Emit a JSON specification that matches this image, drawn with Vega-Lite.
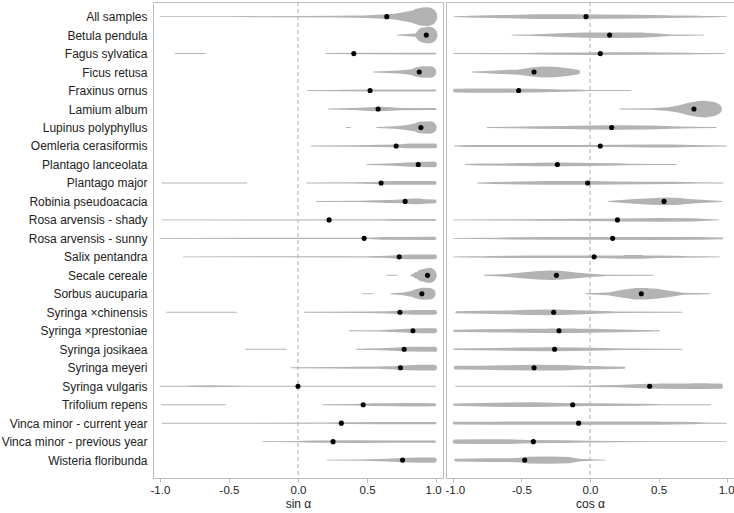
{
  "$schema": "https://vega.github.io/schema/vega-lite/v6.json",
  "padding": {"left": 0, "top": 1, "right": 0, "bottom": 0},
  "spacing": 0,
  "config": {
    "font": "Liberation Sans",
    "view": {"stroke": "#bdbdbd", "strokeWidth": 1},
    "axis": {"labelFont": "Liberation Sans", "titleFont": "Liberation Sans", "labelFontSize": 12, "titleFontSize": 12, "titleFontWeight": "normal", "labelColor": "#222", "titleColor": "#222", "grid": false, "domainColor": "#bdbdbd", "tickColor": "#bdbdbd"}
  },
  "datasets": {
    "means": [
      {"c": "All samples", "sin": 0.643, "cos": -0.029},
      {"c": "Betula pendula", "sin": 0.929, "cos": 0.143},
      {"c": "Fagus sylvatica", "sin": 0.404, "cos": 0.075},
      {"c": "Ficus retusa", "sin": 0.878, "cos": -0.408},
      {"c": "Fraxinus ornus", "sin": 0.522, "cos": -0.52},
      {"c": "Lamium album", "sin": 0.58, "cos": 0.758},
      {"c": "Lupinus polyphyllus", "sin": 0.89, "cos": 0.158},
      {"c": "Oemleria cerasiformis", "sin": 0.711, "cos": 0.075},
      {"c": "Plantago lanceolata", "sin": 0.871, "cos": -0.238},
      {"c": "Plantago major", "sin": 0.602, "cos": -0.017},
      {"c": "Robinia pseudoacacia", "sin": 0.776, "cos": 0.54},
      {"c": "Rosa arvensis - shady", "sin": 0.225, "cos": 0.2},
      {"c": "Rosa arvensis - sunny", "sin": 0.479, "cos": 0.165},
      {"c": "Salix pentandra", "sin": 0.733, "cos": 0.03},
      {"c": "Secale cereale", "sin": 0.938, "cos": -0.245},
      {"c": "Sorbus aucuparia", "sin": 0.897, "cos": 0.374},
      {"c": "Syringa ×chinensis", "sin": 0.738, "cos": -0.265},
      {"c": "Syringa ×prestoniae", "sin": 0.832, "cos": -0.226},
      {"c": "Syringa josikaea", "sin": 0.769, "cos": -0.258},
      {"c": "Syringa meyeri", "sin": 0.742, "cos": -0.408},
      {"c": "Syringa vulgaris", "sin": 0.0, "cos": 0.435},
      {"c": "Trifolium repens", "sin": 0.472, "cos": -0.126},
      {"c": "Vinca minor - current year", "sin": 0.314, "cos": -0.083},
      {"c": "Vinca minor - previous year", "sin": 0.254, "cos": -0.413},
      {"c": "Wisteria floribunda", "sin": 0.757, "cos": -0.476}
    ],
    "vsin": [
      {"c": "All samples", "g": 1, "x": -1, "d": 0.05},
      {"c": "All samples", "g": 1, "x": -0.5, "d": 0.05},
      {"c": "All samples", "g": 1, "x": 0, "d": 0.06},
      {"c": "All samples", "g": 1, "x": 0.3, "d": 0.08},
      {"c": "All samples", "g": 1, "x": 0.5, "d": 0.15},
      {"c": "All samples", "g": 1, "x": 0.62, "d": 0.22},
      {"c": "All samples", "g": 1, "x": 0.7, "d": 0.3},
      {"c": "All samples", "g": 1, "x": 0.76, "d": 0.45},
      {"c": "All samples", "g": 1, "x": 0.82, "d": 0.63},
      {"c": "All samples", "g": 1, "x": 0.87, "d": 0.85},
      {"c": "All samples", "g": 1, "x": 0.9, "d": 0.97},
      {"c": "All samples", "g": 1, "x": 0.94, "d": 1},
      {"c": "Betula pendula", "g": 1, "x": 0.716, "d": 0.05},
      {"c": "Betula pendula", "g": 1, "x": 0.8, "d": 0.12},
      {"c": "Betula pendula", "g": 1, "x": 0.86, "d": 0.2},
      {"c": "Betula pendula", "g": 1, "x": 0.88, "d": 0.45},
      {"c": "Betula pendula", "g": 1, "x": 0.91, "d": 0.8},
      {"c": "Betula pendula", "g": 1, "x": 0.95, "d": 0.88},
      {"c": "Fagus sylvatica", "g": 1, "x": -0.89, "d": 0.05},
      {"c": "Fagus sylvatica", "g": 1, "x": -0.67, "d": 0.05},
      {"c": "Fagus sylvatica", "g": 2, "x": 0.2, "d": 0.05},
      {"c": "Fagus sylvatica", "g": 2, "x": 0.5, "d": 0.08},
      {"c": "Fagus sylvatica", "g": 2, "x": 0.8, "d": 0.1},
      {"c": "Fagus sylvatica", "g": 2, "x": 0.995, "d": 0.1},
      {"c": "Ficus retusa", "g": 1, "x": 0.547, "d": 0.05},
      {"c": "Ficus retusa", "g": 1, "x": 0.65, "d": 0.1},
      {"c": "Ficus retusa", "g": 1, "x": 0.75, "d": 0.18},
      {"c": "Ficus retusa", "g": 1, "x": 0.82, "d": 0.3},
      {"c": "Ficus retusa", "g": 1, "x": 0.86, "d": 0.5},
      {"c": "Ficus retusa", "g": 1, "x": 0.9, "d": 0.6},
      {"c": "Ficus retusa", "g": 1, "x": 0.96, "d": 0.6},
      {"c": "Fraxinus ornus", "g": 1, "x": 0.07, "d": 0.05},
      {"c": "Fraxinus ornus", "g": 1, "x": 0.3, "d": 0.08},
      {"c": "Fraxinus ornus", "g": 1, "x": 0.6, "d": 0.1},
      {"c": "Fraxinus ornus", "g": 1, "x": 0.995, "d": 0.1},
      {"c": "Lamium album", "g": 1, "x": 0.22, "d": 0.05},
      {"c": "Lamium album", "g": 1, "x": 0.4, "d": 0.1},
      {"c": "Lamium album", "g": 1, "x": 0.52, "d": 0.2},
      {"c": "Lamium album", "g": 1, "x": 0.6, "d": 0.24},
      {"c": "Lamium album", "g": 1, "x": 0.68, "d": 0.18},
      {"c": "Lamium album", "g": 1, "x": 0.75, "d": 0.12},
      {"c": "Lamium album", "g": 1, "x": 0.995, "d": 0.1},
      {"c": "Lupinus polyphyllus", "g": 1, "x": 0.35, "d": 0.05},
      {"c": "Lupinus polyphyllus", "g": 1, "x": 0.38, "d": 0.05},
      {"c": "Lupinus polyphyllus", "g": 2, "x": 0.57, "d": 0.05},
      {"c": "Lupinus polyphyllus", "g": 2, "x": 0.7, "d": 0.12},
      {"c": "Lupinus polyphyllus", "g": 2, "x": 0.78, "d": 0.25},
      {"c": "Lupinus polyphyllus", "g": 2, "x": 0.84, "d": 0.4},
      {"c": "Lupinus polyphyllus", "g": 2, "x": 0.88, "d": 0.6},
      {"c": "Lupinus polyphyllus", "g": 2, "x": 0.96, "d": 0.65},
      {"c": "Oemleria cerasiformis", "g": 1, "x": 0.097, "d": 0.05},
      {"c": "Oemleria cerasiformis", "g": 1, "x": 0.4, "d": 0.07},
      {"c": "Oemleria cerasiformis", "g": 1, "x": 0.6, "d": 0.12},
      {"c": "Oemleria cerasiformis", "g": 1, "x": 0.72, "d": 0.15},
      {"c": "Oemleria cerasiformis", "g": 1, "x": 0.76, "d": 0.22},
      {"c": "Oemleria cerasiformis", "g": 1, "x": 0.8, "d": 0.25},
      {"c": "Oemleria cerasiformis", "g": 1, "x": 0.99, "d": 0.25},
      {"c": "Plantago lanceolata", "g": 1, "x": 0.5, "d": 0.05},
      {"c": "Plantago lanceolata", "g": 1, "x": 0.65, "d": 0.1},
      {"c": "Plantago lanceolata", "g": 1, "x": 0.75, "d": 0.18},
      {"c": "Plantago lanceolata", "g": 1, "x": 0.85, "d": 0.26},
      {"c": "Plantago lanceolata", "g": 1, "x": 0.985, "d": 0.3},
      {"c": "Plantago major", "g": 1, "x": -0.985, "d": 0.05},
      {"c": "Plantago major", "g": 1, "x": -0.37, "d": 0.05},
      {"c": "Plantago major", "g": 2, "x": 0.063, "d": 0.05},
      {"c": "Plantago major", "g": 2, "x": 0.4, "d": 0.06},
      {"c": "Plantago major", "g": 2, "x": 0.55, "d": 0.1},
      {"c": "Plantago major", "g": 2, "x": 0.62, "d": 0.18},
      {"c": "Plantago major", "g": 2, "x": 0.7, "d": 0.2},
      {"c": "Plantago major", "g": 2, "x": 0.99, "d": 0.2},
      {"c": "Robinia pseudoacacia", "g": 1, "x": 0.133, "d": 0.05},
      {"c": "Robinia pseudoacacia", "g": 1, "x": 0.45, "d": 0.06},
      {"c": "Robinia pseudoacacia", "g": 1, "x": 0.55, "d": 0.12},
      {"c": "Robinia pseudoacacia", "g": 1, "x": 0.65, "d": 0.16},
      {"c": "Robinia pseudoacacia", "g": 1, "x": 0.75, "d": 0.2},
      {"c": "Robinia pseudoacacia", "g": 1, "x": 0.82, "d": 0.3},
      {"c": "Robinia pseudoacacia", "g": 1, "x": 0.88, "d": 0.3},
      {"c": "Robinia pseudoacacia", "g": 1, "x": 0.92, "d": 0.24},
      {"c": "Robinia pseudoacacia", "g": 1, "x": 0.99, "d": 0.2},
      {"c": "Rosa arvensis - shady", "g": 1, "x": -0.985, "d": 0.05},
      {"c": "Rosa arvensis - shady", "g": 1, "x": 0.6, "d": 0.06},
      {"c": "Rosa arvensis - shady", "g": 1, "x": 0.7, "d": 0.1},
      {"c": "Rosa arvensis - shady", "g": 1, "x": 0.995, "d": 0.1},
      {"c": "Rosa arvensis - sunny", "g": 1, "x": -1, "d": 0.05},
      {"c": "Rosa arvensis - sunny", "g": 1, "x": 0.5, "d": 0.06},
      {"c": "Rosa arvensis - sunny", "g": 1, "x": 0.61, "d": 0.14},
      {"c": "Rosa arvensis - sunny", "g": 1, "x": 0.99, "d": 0.16},
      {"c": "Salix pentandra", "g": 1, "x": -0.83, "d": 0.05},
      {"c": "Salix pentandra", "g": 1, "x": 0.5, "d": 0.06},
      {"c": "Salix pentandra", "g": 1, "x": 0.65, "d": 0.12},
      {"c": "Salix pentandra", "g": 1, "x": 0.72, "d": 0.2},
      {"c": "Salix pentandra", "g": 1, "x": 0.8, "d": 0.24},
      {"c": "Salix pentandra", "g": 1, "x": 0.99, "d": 0.24},
      {"c": "Secale cereale", "g": 1, "x": 0.643, "d": 0.05},
      {"c": "Secale cereale", "g": 1, "x": 0.716, "d": 0.05},
      {"c": "Secale cereale", "g": 2, "x": 0.817, "d": 0.05},
      {"c": "Secale cereale", "g": 2, "x": 0.86, "d": 0.35},
      {"c": "Secale cereale", "g": 2, "x": 0.9, "d": 0.65},
      {"c": "Secale cereale", "g": 2, "x": 0.95, "d": 0.8},
      {"c": "Sorbus aucuparia", "g": 1, "x": 0.47, "d": 0.05},
      {"c": "Sorbus aucuparia", "g": 1, "x": 0.54, "d": 0.05},
      {"c": "Sorbus aucuparia", "g": 2, "x": 0.672, "d": 0.05},
      {"c": "Sorbus aucuparia", "g": 2, "x": 0.76, "d": 0.15},
      {"c": "Sorbus aucuparia", "g": 2, "x": 0.82, "d": 0.3},
      {"c": "Sorbus aucuparia", "g": 2, "x": 0.86, "d": 0.5},
      {"c": "Sorbus aucuparia", "g": 2, "x": 0.9, "d": 0.63},
      {"c": "Sorbus aucuparia", "g": 2, "x": 0.955, "d": 0.6},
      {"c": "Syringa ×chinensis", "g": 1, "x": -0.953, "d": 0.05},
      {"c": "Syringa ×chinensis", "g": 1, "x": -0.445, "d": 0.05},
      {"c": "Syringa ×chinensis", "g": 2, "x": 0.044, "d": 0.05},
      {"c": "Syringa ×chinensis", "g": 2, "x": 0.5, "d": 0.07},
      {"c": "Syringa ×chinensis", "g": 2, "x": 0.65, "d": 0.12},
      {"c": "Syringa ×chinensis", "g": 2, "x": 0.75, "d": 0.2},
      {"c": "Syringa ×chinensis", "g": 2, "x": 0.85, "d": 0.25},
      {"c": "Syringa ×chinensis", "g": 2, "x": 0.99, "d": 0.25},
      {"c": "Syringa ×prestoniae", "g": 1, "x": 0.372, "d": 0.05},
      {"c": "Syringa ×prestoniae", "g": 1, "x": 0.6, "d": 0.08},
      {"c": "Syringa ×prestoniae", "g": 1, "x": 0.72, "d": 0.15},
      {"c": "Syringa ×prestoniae", "g": 1, "x": 0.8, "d": 0.22},
      {"c": "Syringa ×prestoniae", "g": 1, "x": 0.88, "d": 0.26},
      {"c": "Syringa ×prestoniae", "g": 1, "x": 0.99, "d": 0.26},
      {"c": "Syringa josikaea", "g": 1, "x": -0.38, "d": 0.05},
      {"c": "Syringa josikaea", "g": 1, "x": -0.085, "d": 0.05},
      {"c": "Syringa josikaea", "g": 2, "x": 0.42, "d": 0.05},
      {"c": "Syringa josikaea", "g": 2, "x": 0.6, "d": 0.1},
      {"c": "Syringa josikaea", "g": 2, "x": 0.72, "d": 0.18},
      {"c": "Syringa josikaea", "g": 2, "x": 0.8, "d": 0.25},
      {"c": "Syringa josikaea", "g": 2, "x": 0.99, "d": 0.27},
      {"c": "Syringa meyeri", "g": 1, "x": -0.05, "d": 0.05},
      {"c": "Syringa meyeri", "g": 1, "x": 0.25, "d": 0.07},
      {"c": "Syringa meyeri", "g": 1, "x": 0.4, "d": 0.1},
      {"c": "Syringa meyeri", "g": 1, "x": 0.58, "d": 0.12},
      {"c": "Syringa meyeri", "g": 1, "x": 0.7, "d": 0.18},
      {"c": "Syringa meyeri", "g": 1, "x": 0.8, "d": 0.27},
      {"c": "Syringa meyeri", "g": 1, "x": 0.88, "d": 0.3},
      {"c": "Syringa meyeri", "g": 1, "x": 0.985, "d": 0.3},
      {"c": "Syringa vulgaris", "g": 1, "x": -1, "d": 0.05},
      {"c": "Syringa vulgaris", "g": 1, "x": -0.8, "d": 0.07},
      {"c": "Syringa vulgaris", "g": 1, "x": -0.65, "d": 0.1},
      {"c": "Syringa vulgaris", "g": 1, "x": -0.52, "d": 0.08},
      {"c": "Syringa vulgaris", "g": 1, "x": -0.4, "d": 0.05},
      {"c": "Syringa vulgaris", "g": 1, "x": 0.995, "d": 0.05},
      {"c": "Trifolium repens", "g": 1, "x": -0.99, "d": 0.05},
      {"c": "Trifolium repens", "g": 1, "x": -0.525, "d": 0.05},
      {"c": "Trifolium repens", "g": 2, "x": 0.18, "d": 0.05},
      {"c": "Trifolium repens", "g": 2, "x": 0.4, "d": 0.08},
      {"c": "Trifolium repens", "g": 2, "x": 0.55, "d": 0.14},
      {"c": "Trifolium repens", "g": 2, "x": 0.7, "d": 0.16},
      {"c": "Trifolium repens", "g": 2, "x": 0.82, "d": 0.2},
      {"c": "Trifolium repens", "g": 2, "x": 0.9, "d": 0.18},
      {"c": "Trifolium repens", "g": 2, "x": 0.99, "d": 0.16},
      {"c": "Vinca minor - current year", "g": 1, "x": -0.985, "d": 0.05},
      {"c": "Vinca minor - current year", "g": 1, "x": 0.2, "d": 0.06},
      {"c": "Vinca minor - current year", "g": 1, "x": 0.35, "d": 0.1},
      {"c": "Vinca minor - current year", "g": 1, "x": 0.6, "d": 0.11},
      {"c": "Vinca minor - current year", "g": 1, "x": 0.995, "d": 0.11},
      {"c": "Vinca minor - previous year", "g": 1, "x": -0.256, "d": 0.05},
      {"c": "Vinca minor - previous year", "g": 1, "x": 0, "d": 0.07},
      {"c": "Vinca minor - previous year", "g": 1, "x": 0.1, "d": 0.12},
      {"c": "Vinca minor - previous year", "g": 1, "x": 0.4, "d": 0.14},
      {"c": "Vinca minor - previous year", "g": 1, "x": 0.7, "d": 0.13},
      {"c": "Vinca minor - previous year", "g": 1, "x": 0.99, "d": 0.13},
      {"c": "Wisteria floribunda", "g": 1, "x": 0.21, "d": 0.05},
      {"c": "Wisteria floribunda", "g": 1, "x": 0.45, "d": 0.07},
      {"c": "Wisteria floribunda", "g": 1, "x": 0.6, "d": 0.12},
      {"c": "Wisteria floribunda", "g": 1, "x": 0.72, "d": 0.2},
      {"c": "Wisteria floribunda", "g": 1, "x": 0.8, "d": 0.26},
      {"c": "Wisteria floribunda", "g": 1, "x": 0.88, "d": 0.28},
      {"c": "Wisteria floribunda", "g": 1, "x": 0.985, "d": 0.28}
    ],
    "vcos": [
      {"c": "All samples", "g": 1, "x": -0.99, "d": 0.05},
      {"c": "All samples", "g": 1, "x": -0.89, "d": 0.1},
      {"c": "All samples", "g": 1, "x": -0.65, "d": 0.16},
      {"c": "All samples", "g": 1, "x": -0.4, "d": 0.24},
      {"c": "All samples", "g": 1, "x": -0.16, "d": 0.25},
      {"c": "All samples", "g": 1, "x": 0.08, "d": 0.22},
      {"c": "All samples", "g": 1, "x": 0.33, "d": 0.19},
      {"c": "All samples", "g": 1, "x": 0.57, "d": 0.15},
      {"c": "All samples", "g": 1, "x": 0.81, "d": 0.1},
      {"c": "All samples", "g": 1, "x": 0.995, "d": 0.05},
      {"c": "Betula pendula", "g": 1, "x": -0.57, "d": 0.05},
      {"c": "Betula pendula", "g": 1, "x": -0.4, "d": 0.1},
      {"c": "Betula pendula", "g": 1, "x": -0.21, "d": 0.2},
      {"c": "Betula pendula", "g": 1, "x": -0.04, "d": 0.28},
      {"c": "Betula pendula", "g": 1, "x": 0.2, "d": 0.3},
      {"c": "Betula pendula", "g": 1, "x": 0.37, "d": 0.28},
      {"c": "Betula pendula", "g": 1, "x": 0.5, "d": 0.16},
      {"c": "Betula pendula", "g": 1, "x": 0.57, "d": 0.1},
      {"c": "Betula pendula", "g": 1, "x": 0.83, "d": 0.05},
      {"c": "Fagus sylvatica", "g": 1, "x": -0.995, "d": 0.05},
      {"c": "Fagus sylvatica", "g": 1, "x": -0.48, "d": 0.06},
      {"c": "Fagus sylvatica", "g": 1, "x": -0.3, "d": 0.12},
      {"c": "Fagus sylvatica", "g": 1, "x": 0, "d": 0.14},
      {"c": "Fagus sylvatica", "g": 1, "x": 0.4, "d": 0.13},
      {"c": "Fagus sylvatica", "g": 1, "x": 0.7, "d": 0.1},
      {"c": "Fagus sylvatica", "g": 1, "x": 0.8, "d": 0.06},
      {"c": "Fagus sylvatica", "g": 1, "x": 0.98, "d": 0.05},
      {"c": "Ficus retusa", "g": 1, "x": -0.86, "d": 0.05},
      {"c": "Ficus retusa", "g": 1, "x": -0.75, "d": 0.12},
      {"c": "Ficus retusa", "g": 1, "x": -0.65, "d": 0.2},
      {"c": "Ficus retusa", "g": 1, "x": -0.52, "d": 0.28},
      {"c": "Ficus retusa", "g": 1, "x": -0.44, "d": 0.45},
      {"c": "Ficus retusa", "g": 1, "x": -0.35, "d": 0.58},
      {"c": "Ficus retusa", "g": 1, "x": -0.25, "d": 0.55},
      {"c": "Ficus retusa", "g": 1, "x": -0.15, "d": 0.38},
      {"c": "Ficus retusa", "g": 1, "x": -0.09, "d": 0.25},
      {"c": "Fraxinus ornus", "g": 1, "x": -0.985, "d": 0.2},
      {"c": "Fraxinus ornus", "g": 1, "x": -0.85, "d": 0.22},
      {"c": "Fraxinus ornus", "g": 1, "x": -0.6, "d": 0.22},
      {"c": "Fraxinus ornus", "g": 1, "x": -0.4, "d": 0.2},
      {"c": "Fraxinus ornus", "g": 1, "x": -0.25, "d": 0.14},
      {"c": "Fraxinus ornus", "g": 1, "x": -0.1, "d": 0.1},
      {"c": "Fraxinus ornus", "g": 1, "x": 0, "d": 0.06},
      {"c": "Fraxinus ornus", "g": 1, "x": 0.3, "d": 0.05},
      {"c": "Lamium album", "g": 1, "x": 0.216, "d": 0.05},
      {"c": "Lamium album", "g": 1, "x": 0.45, "d": 0.07},
      {"c": "Lamium album", "g": 1, "x": 0.57, "d": 0.2},
      {"c": "Lamium album", "g": 1, "x": 0.65, "d": 0.4},
      {"c": "Lamium album", "g": 1, "x": 0.72, "d": 0.65},
      {"c": "Lamium album", "g": 1, "x": 0.79, "d": 0.85},
      {"c": "Lamium album", "g": 1, "x": 0.84, "d": 0.88},
      {"c": "Lamium album", "g": 1, "x": 0.9, "d": 0.75},
      {"c": "Lamium album", "g": 1, "x": 0.92, "d": 0.6},
      {"c": "Lupinus polyphyllus", "g": 1, "x": -0.75, "d": 0.05},
      {"c": "Lupinus polyphyllus", "g": 1, "x": -0.55, "d": 0.08},
      {"c": "Lupinus polyphyllus", "g": 1, "x": -0.4, "d": 0.12},
      {"c": "Lupinus polyphyllus", "g": 1, "x": -0.2, "d": 0.15},
      {"c": "Lupinus polyphyllus", "g": 1, "x": 0, "d": 0.2},
      {"c": "Lupinus polyphyllus", "g": 1, "x": 0.2, "d": 0.23},
      {"c": "Lupinus polyphyllus", "g": 1, "x": 0.4, "d": 0.22},
      {"c": "Lupinus polyphyllus", "g": 1, "x": 0.5, "d": 0.18},
      {"c": "Lupinus polyphyllus", "g": 1, "x": 0.6, "d": 0.12},
      {"c": "Lupinus polyphyllus", "g": 1, "x": 0.75, "d": 0.08},
      {"c": "Lupinus polyphyllus", "g": 1, "x": 0.92, "d": 0.05},
      {"c": "Oemleria cerasiformis", "g": 1, "x": -0.99, "d": 0.05},
      {"c": "Oemleria cerasiformis", "g": 1, "x": -0.9, "d": 0.1},
      {"c": "Oemleria cerasiformis", "g": 1, "x": -0.5, "d": 0.1},
      {"c": "Oemleria cerasiformis", "g": 1, "x": -0.1, "d": 0.1},
      {"c": "Oemleria cerasiformis", "g": 1, "x": 0.2, "d": 0.12},
      {"c": "Oemleria cerasiformis", "g": 1, "x": 0.4, "d": 0.16},
      {"c": "Oemleria cerasiformis", "g": 1, "x": 0.6, "d": 0.15},
      {"c": "Oemleria cerasiformis", "g": 1, "x": 0.75, "d": 0.1},
      {"c": "Oemleria cerasiformis", "g": 1, "x": 0.995, "d": 0.05},
      {"c": "Plantago lanceolata", "g": 1, "x": -0.91, "d": 0.05},
      {"c": "Plantago lanceolata", "g": 1, "x": -0.8, "d": 0.1},
      {"c": "Plantago lanceolata", "g": 1, "x": -0.6, "d": 0.14},
      {"c": "Plantago lanceolata", "g": 1, "x": -0.4, "d": 0.18},
      {"c": "Plantago lanceolata", "g": 1, "x": -0.2, "d": 0.2},
      {"c": "Plantago lanceolata", "g": 1, "x": 0, "d": 0.16},
      {"c": "Plantago lanceolata", "g": 1, "x": 0.2, "d": 0.12},
      {"c": "Plantago lanceolata", "g": 1, "x": 0.3, "d": 0.08},
      {"c": "Plantago lanceolata", "g": 1, "x": 0.45, "d": 0.05},
      {"c": "Plantago lanceolata", "g": 1, "x": 0.63, "d": 0.05},
      {"c": "Plantago major", "g": 1, "x": -0.82, "d": 0.05},
      {"c": "Plantago major", "g": 1, "x": -0.7, "d": 0.1},
      {"c": "Plantago major", "g": 1, "x": -0.5, "d": 0.16},
      {"c": "Plantago major", "g": 1, "x": -0.3, "d": 0.2},
      {"c": "Plantago major", "g": 1, "x": 0, "d": 0.2},
      {"c": "Plantago major", "g": 1, "x": 0.18, "d": 0.16},
      {"c": "Plantago major", "g": 1, "x": 0.4, "d": 0.13},
      {"c": "Plantago major", "g": 1, "x": 0.6, "d": 0.12},
      {"c": "Plantago major", "g": 1, "x": 0.8, "d": 0.07},
      {"c": "Plantago major", "g": 1, "x": 0.97, "d": 0.05},
      {"c": "Robinia pseudoacacia", "g": 1, "x": 0.136, "d": 0.05},
      {"c": "Robinia pseudoacacia", "g": 1, "x": 0.2, "d": 0.12},
      {"c": "Robinia pseudoacacia", "g": 1, "x": 0.3, "d": 0.22},
      {"c": "Robinia pseudoacacia", "g": 1, "x": 0.4, "d": 0.32},
      {"c": "Robinia pseudoacacia", "g": 1, "x": 0.55, "d": 0.4},
      {"c": "Robinia pseudoacacia", "g": 1, "x": 0.65, "d": 0.35},
      {"c": "Robinia pseudoacacia", "g": 1, "x": 0.75, "d": 0.22},
      {"c": "Robinia pseudoacacia", "g": 1, "x": 0.85, "d": 0.15},
      {"c": "Robinia pseudoacacia", "g": 1, "x": 0.96, "d": 0.05},
      {"c": "Rosa arvensis - shady", "g": 1, "x": -0.995, "d": 0.05},
      {"c": "Rosa arvensis - shady", "g": 1, "x": -0.65, "d": 0.07},
      {"c": "Rosa arvensis - shady", "g": 1, "x": -0.3, "d": 0.1},
      {"c": "Rosa arvensis - shady", "g": 1, "x": 0, "d": 0.12},
      {"c": "Rosa arvensis - shady", "g": 1, "x": 0.25, "d": 0.16},
      {"c": "Rosa arvensis - shady", "g": 1, "x": 0.5, "d": 0.19},
      {"c": "Rosa arvensis - shady", "g": 1, "x": 0.75, "d": 0.17},
      {"c": "Rosa arvensis - shady", "g": 1, "x": 0.85, "d": 0.1},
      {"c": "Rosa arvensis - shady", "g": 1, "x": 0.94, "d": 0.05},
      {"c": "Rosa arvensis - sunny", "g": 1, "x": -0.995, "d": 0.05},
      {"c": "Rosa arvensis - sunny", "g": 1, "x": -0.65, "d": 0.1},
      {"c": "Rosa arvensis - sunny", "g": 1, "x": -0.3, "d": 0.15},
      {"c": "Rosa arvensis - sunny", "g": 1, "x": 0, "d": 0.15},
      {"c": "Rosa arvensis - sunny", "g": 1, "x": 0.5, "d": 0.16},
      {"c": "Rosa arvensis - sunny", "g": 1, "x": 0.8, "d": 0.15},
      {"c": "Rosa arvensis - sunny", "g": 1, "x": 0.965, "d": 0.1},
      {"c": "Salix pentandra", "g": 1, "x": -0.995, "d": 0.05},
      {"c": "Salix pentandra", "g": 1, "x": -0.75, "d": 0.1},
      {"c": "Salix pentandra", "g": 1, "x": -0.4, "d": 0.13},
      {"c": "Salix pentandra", "g": 1, "x": -0.1, "d": 0.13},
      {"c": "Salix pentandra", "g": 1, "x": 0.1, "d": 0.15},
      {"c": "Salix pentandra", "g": 1, "x": 0.25, "d": 0.2},
      {"c": "Salix pentandra", "g": 1, "x": 0.38, "d": 0.2},
      {"c": "Salix pentandra", "g": 1, "x": 0.5, "d": 0.13},
      {"c": "Salix pentandra", "g": 1, "x": 0.7, "d": 0.1},
      {"c": "Salix pentandra", "g": 1, "x": 0.945, "d": 0.05},
      {"c": "Secale cereale", "g": 1, "x": -0.77, "d": 0.05},
      {"c": "Secale cereale", "g": 1, "x": -0.62, "d": 0.15},
      {"c": "Secale cereale", "g": 1, "x": -0.5, "d": 0.3},
      {"c": "Secale cereale", "g": 1, "x": -0.38, "d": 0.45},
      {"c": "Secale cereale", "g": 1, "x": -0.28, "d": 0.5},
      {"c": "Secale cereale", "g": 1, "x": -0.2, "d": 0.45},
      {"c": "Secale cereale", "g": 1, "x": -0.1, "d": 0.3},
      {"c": "Secale cereale", "g": 1, "x": 0.03, "d": 0.14},
      {"c": "Secale cereale", "g": 1, "x": 0.13, "d": 0.06},
      {"c": "Secale cereale", "g": 1, "x": 0.46, "d": 0.05},
      {"c": "Sorbus aucuparia", "g": 1, "x": -0.03, "d": 0.05},
      {"c": "Sorbus aucuparia", "g": 1, "x": 0.13, "d": 0.15},
      {"c": "Sorbus aucuparia", "g": 1, "x": 0.23, "d": 0.4},
      {"c": "Sorbus aucuparia", "g": 1, "x": 0.33, "d": 0.6},
      {"c": "Sorbus aucuparia", "g": 1, "x": 0.42, "d": 0.6},
      {"c": "Sorbus aucuparia", "g": 1, "x": 0.5, "d": 0.5},
      {"c": "Sorbus aucuparia", "g": 1, "x": 0.57, "d": 0.36},
      {"c": "Sorbus aucuparia", "g": 1, "x": 0.68, "d": 0.1},
      {"c": "Sorbus aucuparia", "g": 1, "x": 0.87, "d": 0.05},
      {"c": "Syringa ×chinensis", "g": 1, "x": -0.975, "d": 0.1},
      {"c": "Syringa ×chinensis", "g": 1, "x": -0.8, "d": 0.16},
      {"c": "Syringa ×chinensis", "g": 1, "x": -0.6, "d": 0.2},
      {"c": "Syringa ×chinensis", "g": 1, "x": -0.45, "d": 0.28},
      {"c": "Syringa ×chinensis", "g": 1, "x": -0.25, "d": 0.3},
      {"c": "Syringa ×chinensis", "g": 1, "x": -0.1, "d": 0.22},
      {"c": "Syringa ×chinensis", "g": 1, "x": 0.05, "d": 0.15},
      {"c": "Syringa ×chinensis", "g": 1, "x": 0.2, "d": 0.08},
      {"c": "Syringa ×chinensis", "g": 1, "x": 0.67, "d": 0.05},
      {"c": "Syringa ×prestoniae", "g": 1, "x": -0.99, "d": 0.12},
      {"c": "Syringa ×prestoniae", "g": 1, "x": -0.8, "d": 0.16},
      {"c": "Syringa ×prestoniae", "g": 1, "x": -0.5, "d": 0.2},
      {"c": "Syringa ×prestoniae", "g": 1, "x": -0.3, "d": 0.24},
      {"c": "Syringa ×prestoniae", "g": 1, "x": -0.1, "d": 0.24},
      {"c": "Syringa ×prestoniae", "g": 1, "x": 0.1, "d": 0.18},
      {"c": "Syringa ×prestoniae", "g": 1, "x": 0.3, "d": 0.12},
      {"c": "Syringa ×prestoniae", "g": 1, "x": 0.51, "d": 0.05},
      {"c": "Syringa josikaea", "g": 1, "x": -0.99, "d": 0.08},
      {"c": "Syringa josikaea", "g": 1, "x": -0.7, "d": 0.12},
      {"c": "Syringa josikaea", "g": 1, "x": -0.5, "d": 0.18},
      {"c": "Syringa josikaea", "g": 1, "x": -0.3, "d": 0.2},
      {"c": "Syringa josikaea", "g": 1, "x": -0.1, "d": 0.18},
      {"c": "Syringa josikaea", "g": 1, "x": 0.1, "d": 0.14},
      {"c": "Syringa josikaea", "g": 1, "x": 0.25, "d": 0.08},
      {"c": "Syringa josikaea", "g": 1, "x": 0.67, "d": 0.05},
      {"c": "Syringa meyeri", "g": 1, "x": -0.98, "d": 0.2},
      {"c": "Syringa meyeri", "g": 1, "x": -0.8, "d": 0.22},
      {"c": "Syringa meyeri", "g": 1, "x": -0.6, "d": 0.26},
      {"c": "Syringa meyeri", "g": 1, "x": -0.4, "d": 0.3},
      {"c": "Syringa meyeri", "g": 1, "x": -0.2, "d": 0.28},
      {"c": "Syringa meyeri", "g": 1, "x": -0.05, "d": 0.2},
      {"c": "Syringa meyeri", "g": 1, "x": 0.1, "d": 0.15},
      {"c": "Syringa meyeri", "g": 1, "x": 0.25, "d": 0.1},
      {"c": "Syringa vulgaris", "g": 1, "x": -0.98, "d": 0.05},
      {"c": "Syringa vulgaris", "g": 1, "x": -0.2, "d": 0.06},
      {"c": "Syringa vulgaris", "g": 1, "x": 0, "d": 0.08},
      {"c": "Syringa vulgaris", "g": 1, "x": 0.2, "d": 0.12},
      {"c": "Syringa vulgaris", "g": 1, "x": 0.37, "d": 0.22},
      {"c": "Syringa vulgaris", "g": 1, "x": 0.5, "d": 0.28},
      {"c": "Syringa vulgaris", "g": 1, "x": 0.75, "d": 0.3},
      {"c": "Syringa vulgaris", "g": 1, "x": 0.85, "d": 0.3},
      {"c": "Syringa vulgaris", "g": 1, "x": 0.95, "d": 0.28},
      {"c": "Trifolium repens", "g": 1, "x": -0.99, "d": 0.12},
      {"c": "Trifolium repens", "g": 1, "x": -0.8, "d": 0.18},
      {"c": "Trifolium repens", "g": 1, "x": -0.6, "d": 0.24},
      {"c": "Trifolium repens", "g": 1, "x": -0.4, "d": 0.25},
      {"c": "Trifolium repens", "g": 1, "x": -0.2, "d": 0.18},
      {"c": "Trifolium repens", "g": 1, "x": 0, "d": 0.15},
      {"c": "Trifolium repens", "g": 1, "x": 0.2, "d": 0.13},
      {"c": "Trifolium repens", "g": 1, "x": 0.35, "d": 0.1},
      {"c": "Trifolium repens", "g": 1, "x": 0.5, "d": 0.07},
      {"c": "Trifolium repens", "g": 1, "x": 0.88, "d": 0.05},
      {"c": "Vinca minor - current year", "g": 1, "x": -0.99, "d": 0.15},
      {"c": "Vinca minor - current year", "g": 1, "x": -0.7, "d": 0.16},
      {"c": "Vinca minor - current year", "g": 1, "x": -0.4, "d": 0.18},
      {"c": "Vinca minor - current year", "g": 1, "x": -0.1, "d": 0.18},
      {"c": "Vinca minor - current year", "g": 1, "x": 0.2, "d": 0.18},
      {"c": "Vinca minor - current year", "g": 1, "x": 0.5, "d": 0.17},
      {"c": "Vinca minor - current year", "g": 1, "x": 0.75, "d": 0.12},
      {"c": "Vinca minor - current year", "g": 1, "x": 0.85, "d": 0.07},
      {"c": "Vinca minor - current year", "g": 1, "x": 0.995, "d": 0.05},
      {"c": "Vinca minor - previous year", "g": 1, "x": -0.985, "d": 0.22},
      {"c": "Vinca minor - previous year", "g": 1, "x": -0.8, "d": 0.26},
      {"c": "Vinca minor - previous year", "g": 1, "x": -0.6, "d": 0.24},
      {"c": "Vinca minor - previous year", "g": 1, "x": -0.45, "d": 0.16},
      {"c": "Vinca minor - previous year", "g": 1, "x": -0.2, "d": 0.14},
      {"c": "Vinca minor - previous year", "g": 1, "x": 0, "d": 0.1},
      {"c": "Vinca minor - previous year", "g": 1, "x": 0.2, "d": 0.07},
      {"c": "Vinca minor - previous year", "g": 1, "x": 0.45, "d": 0.05},
      {"c": "Vinca minor - previous year", "g": 1, "x": 0.995, "d": 0.05},
      {"c": "Wisteria floribunda", "g": 1, "x": -0.98, "d": 0.15},
      {"c": "Wisteria floribunda", "g": 1, "x": -0.75, "d": 0.2},
      {"c": "Wisteria floribunda", "g": 1, "x": -0.6, "d": 0.2},
      {"c": "Wisteria floribunda", "g": 1, "x": -0.5, "d": 0.25},
      {"c": "Wisteria floribunda", "g": 1, "x": -0.45, "d": 0.36},
      {"c": "Wisteria floribunda", "g": 1, "x": -0.3, "d": 0.38},
      {"c": "Wisteria floribunda", "g": 1, "x": -0.15, "d": 0.32},
      {"c": "Wisteria floribunda", "g": 1, "x": -0.08, "d": 0.15},
      {"c": "Wisteria floribunda", "g": 1, "x": 0, "d": 0.08},
      {"c": "Wisteria floribunda", "g": 1, "x": 0.107, "d": 0.05}
    ]
  },
  "hconcat": [
    {
      "width": 290,
      "height": 476,
      "layer": [
        {
          "data": {"values": [{}]},
          "mark": {"type": "rule", "color": "#ababab", "strokeDash": [4, 3], "strokeWidth": 1},
          "encoding": {"x": {"datum": 0, "type": "quantitative"}}
        },
        {
          "data": {"name": "vsin"},
          "mark": {"type": "trail", "color": "#b3b3b3", "opacity": 1, "clip": true},
          "encoding": {
            "x": {"field": "x", "type": "quantitative",
              "scale": {"domain": [-1.05, 1.05], "nice": false, "zero": false},
              "axis": {"title": "sin α", "values": [-1, -0.5, 0, 0.5, 1], "labelExpr": "datum.value < 0 ? '-' + format(-datum.value, '.1f') : format(datum.value, '.1f')", "labelFontSize": 11.5, "tickSize": 4, "labelPadding": 2, "titlePadding": 3, "labelFlush": false,
                "labelOffset": {"condition": {"test": "datum.value == 1", "value": -3}, "value": 0}}},
            "y": {"field": "c", "type": "nominal",
              "sort": ["All samples", "Betula pendula", "Fagus sylvatica", "Ficus retusa", "Fraxinus ornus", "Lamium album", "Lupinus polyphyllus", "Oemleria cerasiformis", "Plantago lanceolata", "Plantago major", "Robinia pseudoacacia", "Rosa arvensis - shady", "Rosa arvensis - sunny", "Salix pentandra", "Secale cereale", "Sorbus aucuparia", "Syringa ×chinensis", "Syringa ×prestoniae", "Syringa josikaea", "Syringa meyeri", "Syringa vulgaris", "Trifolium repens", "Vinca minor - current year", "Vinca minor - previous year", "Wisteria floribunda"],
              "scale": {"padding": 0.88, "align": 0.45},
              "axis": {"title": null, "domain": false, "ticks": false, "labelPadding": 6, "labelLimit": 300}},
            "size": {"field": "d", "type": "quantitative", "scale": {"domain": [0, 1], "range": [0, 19]}, "legend": null},
            "detail": [{"field": "c"}, {"field": "g"}],
            "order": {"field": "x"}
          }
        },
        {
          "data": {"name": "means"},
          "mark": {"type": "circle", "color": "#000000", "size": 26, "opacity": 1},
          "encoding": {
            "x": {"field": "sin", "type": "quantitative"},
            "y": {"field": "c", "type": "nominal",
              "sort": ["All samples", "Betula pendula", "Fagus sylvatica", "Ficus retusa", "Fraxinus ornus", "Lamium album", "Lupinus polyphyllus", "Oemleria cerasiformis", "Plantago lanceolata", "Plantago major", "Robinia pseudoacacia", "Rosa arvensis - shady", "Rosa arvensis - sunny", "Salix pentandra", "Secale cereale", "Sorbus aucuparia", "Syringa ×chinensis", "Syringa ×prestoniae", "Syringa josikaea", "Syringa meyeri", "Syringa vulgaris", "Trifolium repens", "Vinca minor - current year", "Vinca minor - previous year", "Wisteria floribunda"]}
          }
        }
      ]
    },
    {
      "width": 288,
      "height": 476,
      "layer": [
        {
          "data": {"values": [{}]},
          "mark": {"type": "rule", "color": "#ababab", "strokeDash": [4, 3], "strokeWidth": 1},
          "encoding": {"x": {"datum": 0, "type": "quantitative"}}
        },
        {
          "data": {"name": "vcos"},
          "mark": {"type": "trail", "color": "#b3b3b3", "opacity": 1, "clip": true},
          "encoding": {
            "x": {"field": "x", "type": "quantitative",
              "scale": {"domain": [-1.05, 1.05], "nice": false, "zero": false},
              "axis": {"title": "cos α", "values": [-1, -0.5, 0, 0.5, 1], "labelExpr": "datum.value < 0 ? '-' + format(-datum.value, '.1f') : format(datum.value, '.1f')", "labelFontSize": 11.5, "tickSize": 4, "labelPadding": 2, "titlePadding": 3, "labelFlush": false,
                "labelOffset": {"condition": [{"test": "datum.value == -1", "value": 2}, {"test": "datum.value == 1", "value": -1}], "value": 0}}},
            "y": {"field": "c", "type": "nominal",
              "sort": ["All samples", "Betula pendula", "Fagus sylvatica", "Ficus retusa", "Fraxinus ornus", "Lamium album", "Lupinus polyphyllus", "Oemleria cerasiformis", "Plantago lanceolata", "Plantago major", "Robinia pseudoacacia", "Rosa arvensis - shady", "Rosa arvensis - sunny", "Salix pentandra", "Secale cereale", "Sorbus aucuparia", "Syringa ×chinensis", "Syringa ×prestoniae", "Syringa josikaea", "Syringa meyeri", "Syringa vulgaris", "Trifolium repens", "Vinca minor - current year", "Vinca minor - previous year", "Wisteria floribunda"],
              "scale": {"padding": 0.88, "align": 0.45},
              "axis": null},
            "size": {"field": "d", "type": "quantitative", "scale": {"domain": [0, 1], "range": [0, 19]}, "legend": null},
            "detail": [{"field": "c"}, {"field": "g"}],
            "order": {"field": "x"}
          }
        },
        {
          "data": {"name": "means"},
          "mark": {"type": "circle", "color": "#000000", "size": 26, "opacity": 1},
          "encoding": {
            "x": {"field": "cos", "type": "quantitative"},
            "y": {"field": "c", "type": "nominal",
              "sort": ["All samples", "Betula pendula", "Fagus sylvatica", "Ficus retusa", "Fraxinus ornus", "Lamium album", "Lupinus polyphyllus", "Oemleria cerasiformis", "Plantago lanceolata", "Plantago major", "Robinia pseudoacacia", "Rosa arvensis - shady", "Rosa arvensis - sunny", "Salix pentandra", "Secale cereale", "Sorbus aucuparia", "Syringa ×chinensis", "Syringa ×prestoniae", "Syringa josikaea", "Syringa meyeri", "Syringa vulgaris", "Trifolium repens", "Vinca minor - current year", "Vinca minor - previous year", "Wisteria floribunda"]}
          }
        }
      ]
    }
  ]
}
